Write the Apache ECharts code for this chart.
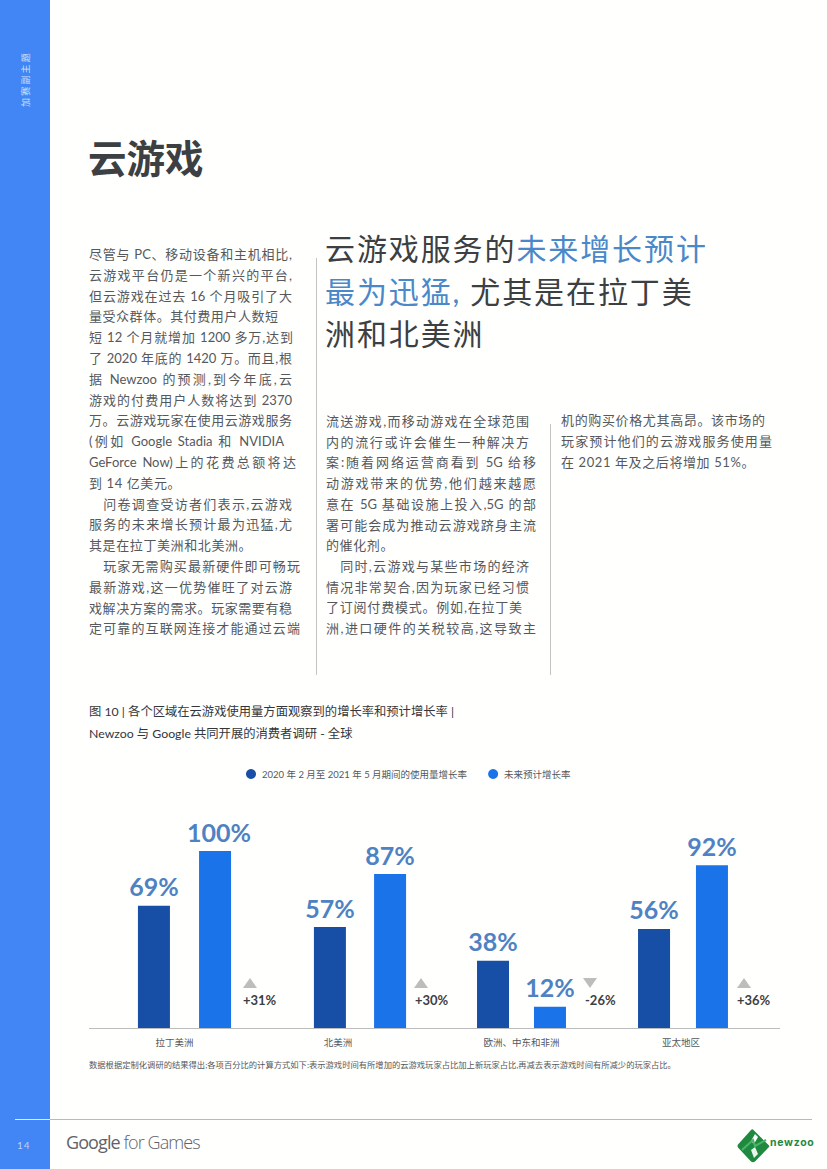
<!DOCTYPE html>
<html lang="zh"><head><meta charset="utf-8">
<script src="https://cdn.jsdelivr.net/npm/echarts@6/dist/echarts.min.js"></script>
<style>
html,body{margin:0;padding:0;background:#fff}
#page{position:relative;width:827px;height:1169px;overflow:hidden;background:#fffffe;font-family:Lato,"Noto Sans CJK SC",sans-serif;color:#55585c}
#chart{position:absolute;left:0;top:0;width:827px;height:1169px;z-index:2}
.abs{position:absolute;white-space:nowrap}
.ln{position:absolute;white-space:nowrap;font-size:13px;line-height:20px;height:20px;letter-spacing:.6px;color:#55585c}
.just{text-align:justify;text-align-last:justify;white-space:normal;letter-spacing:0}
.q{font-size:30px;line-height:40px;letter-spacing:1.9px;color:#3c4043;font-weight:400}
.q b{font-weight:400;color:#4a88c9}
</style></head><body>
<div id="page">
  <div class="abs" style="left:0;top:0;width:50px;height:1169px;background:#4285f4"></div>
  <div class="abs" style="left:25px;top:79px;transform:translate(-50%,-50%) rotate(-90deg);font-size:9px;letter-spacing:2.2px;color:#cfe0fb">加赛副主题</div>
  <div class="abs" style="left:88px;top:134px;font-size:38.5px;line-height:48px;font-weight:700;color:#3c4043">云游戏</div>
  <div class="abs" style="left:316px;top:258px;width:1px;height:417px;background:#c4c4c4"></div>
  <div class="abs" style="left:550px;top:424px;width:1px;height:251px;background:#c4c4c4"></div>
  <div class="abs q" style="left:325px;top:228px">云游戏服务的<b>未来增长预计</b></div>
  <div class="abs q" style="left:325px;top:271px"><b>最为迅猛,</b><span style="margin-left:9px">尤其是在拉丁美</span></div>
  <div class="abs q" style="left:325px;top:313px">洲和北美洲</div>
  <div id="body"></div>
  <div class="abs" style="left:15px;top:1119px;width:35px;height:1px;background:#dfeafd"></div>
  <div class="abs" style="left:50px;top:1119px;width:762px;height:1px;background:#b9b9b9"></div>
  <div class="abs" style="left:17px;top:1139px;font-size:10px;line-height:12px;letter-spacing:1px;color:#bcd3fa">14</div>
  <div class="abs" style="left:66px;top:1129px;font-size:18px;line-height:26px;letter-spacing:-.9px;color:#5f6368;font-family:'Open Sans',sans-serif"><span>Google</span> <span style="font-weight:300">for Games</span></div>
  <svg class="abs" style="left:736px;top:1128px" width="36" height="36" viewBox="0 0 36 36">
    <path d="M17 1.5 L32.5 17 Q34 18 32.5 19.5 L19 33.5 Q17 35 15 33.5 L2 19.5 Q1 18 2 16.5 L15 2 Q16 1 17 1.5Z" fill="#1f8a3f"/>
    <path d="M19 6 L22 9 L18 16 L15 13Z" fill="#fff"/><path d="M15 22 L19 19 L22 26 L18 30Z" fill="#fff" opacity=".9"/>
    <path d="M6 22 L17 12 L19 18 L30 12" stroke="#48b568" stroke-width="2" fill="none"/>
  </svg>
  <div class="abs" style="left:770px;top:1136px;font-size:10.5px;line-height:14px;font-weight:700;letter-spacing:.7px;color:#1f8a3f;font-family:Inter,sans-serif">newzoo</div>
  <div id="chart"></div>
</div>
<script>
// ---- chart data ----
const categories = ['拉丁美洲', '北美洲', '欧洲、中东和非洲', '亚太地区'];
const observedGrowth = [69, 57, 38, 56];
const expectedGrowth = [100, 87, 12, 92];
const deltaLabels = ['+31%', '+30%', '-26%', '+36%'];
const seriesNames = ['2020 年 2 月至 2021 年 5 月期间的使用量增长率', '未来预计增长率'];
const chartTitle = '图 10 | 各个区域在云游戏使用量方面观察到的增长率和预计增长率 |\nNewzoo 与 Google 共同开展的消费者调研 - 全球';
const footnote = '数据根据定制化调研的结果得出;各项百分比的计算方式如下:表示游戏时间有所增加的云游戏玩家占比加上新玩家占比,再减去表示游戏时间有所减少的玩家占比。';

// ---- page copy: [text, right edge of the justified line, or 0 for natural width] ----
const col1 = [
 ['尽管与 PC、移动设备和主机相比,',292],['云游戏平台仍是一个新兴的平台,',292],['但云游戏在过去 16 个月吸引了大',292],
 ['量受众群体。其付费用户人数短',278],['短 12 个月就增加 1200 多万,达到',293],['了 2020 年底的 1420 万。而且,根',292],
 ['据 Newzoo 的预测,到今年底,云',292],['游戏的付费用户人数将达到 2370',292],['万。云游戏玩家在使用云游戏服务',292],
 ['(例如 Google Stadia 和 NVIDIA',284],['GeForce Now)上的花费总额将达',296],['到 14 亿美元。',0],
 ['　问卷调查受访者们表示,云游戏',292],['服务的未来增长预计最为迅猛,尤',292],['其是在拉丁美洲和北美洲。',0],
 ['　玩家无需购买最新硬件即可畅玩',300],['最新游戏,这一优势催旺了对云游',292],['戏解决方案的需求。玩家需要有稳',292],['定可靠的互联网连接才能通过云端',300]];
const col2 = [
 ['流送游戏,而移动游戏在全球范围',529],['内的流行或许会催生一种解决方',529],['案:随着网络运营商看到 5G 给移',536],
 ['动游戏带来的优势,他们越来越愿',536],['意在 5G 基础设施上投入,5G 的部',536],['署可能会成为推动云游戏跻身主流',536],['的催化剂。',0],
 ['　同时,云游戏与某些市场的经济',529],['情况非常契合,因为玩家已经习惯',529],['了订阅付费模式。例如,在拉丁美',522],['洲,进口硬件的关税较高,这导致主',536]];
const col3 = [['机的购买价格尤其高昂。该市场的',765],['玩家预计他们的云游戏服务使用量',772],['在 2021 年及之后将增加 51%。',0]];
function putCol(lines, x, y0, pitch){
  const host = document.getElementById('body');
  lines.forEach((l,i)=>{
    const d = document.createElement('div');
    d.className = 'ln' + (l[1] ? ' just' : '');
    d.textContent = l[0];
    d.style.left = x+'px';
    d.style.top = (y0 + i*pitch - 10)+'px';
    if(l[1]) d.style.width = (l[1]-x)+'px';
    host.appendChild(d);
  });
}
putCol(col1, 89, 254, 20.8);
putCol(col2, 326, 421, 20.7);
putCol(col3, 561, 420, 21);

// ---- layout (px on the page) ----
const baseY = 1028, topY = 851;
const groupCenter = [184.5, 360, 521.5, 683];
const barGap = ['91%', '88%', '78%', '81%'];
const labelShift = [-10, -22, 0, -2];
const deltaX = [250, 421, 590, 744];
const deltaTextX = [243, 415, 585, 737];
const halfW = 70;
const C1 = '#174ea6', C2 = '#1a73e8', VAL = '#4f82c3', TXT = '#55585c';
const FF = 'Lato,"Noto Sans CJK SC",sans-serif';

const chart = echarts.init(document.getElementById('chart'), null, {renderer:'svg', width:827, height:1169});
const grids = [], xAxes = [], yAxes = [], series = [];
categories.forEach((c,i)=>{
  grids.push({left:groupCenter[i]-halfW, width:halfW*2, top:topY, height:baseY-topY});
  const s = labelShift[i];
  xAxes.push({type:'category', gridIndex:i, data:[c], axisLine:{show:false}, axisTick:{show:false},
    axisLabel:{fontSize:9.5, color:TXT, margin:10, fontFamily:FF, interval:0,
      padding: s<0 ? [0,-2*s,0,0] : [0,0,0,2*s]}});
  yAxes.push({type:'value', gridIndex:i, min:0, max:100, show:false});
  [observedGrowth, expectedGrowth].forEach((arr,k)=>{
    series.push({type:'bar', name:seriesNames[k], xAxisIndex:i, yAxisIndex:i, data:[arr[i]],
      barWidth:32, barGap:barGap[i], itemStyle:{color:k?C2:C1}, z:3,
      label:{show:true, position:'top', distance:7, offset:(arr[i]===100?[4,0]:[0,0]), formatter:'{c}%', fontSize:25, fontWeight:700, color:VAL, fontFamily:'Lato,sans-serif'}});
  });
});
const graphic = [
  {type:'line', z:1, shape:{x1:89, y1:baseY+.5, x2:780, y2:baseY+.5}, style:{stroke:'#bdbdbd', lineWidth:1}},
  {type:'text', x:89, y:1061, style:{text:footnote, fontSize:8.3, fill:'#55585c', fontFamily:FF}}
];
deltaLabels.forEach((t,i)=>{
  const up = t[0]==='+', x=deltaX[i], y0=978, y1=988;
  graphic.push({type:'polygon', shape:{points: up ? [[x-7,y1],[x+7,y1],[x,y0]] : [[x-7,y0],[x+7,y0],[x,y1]]}, style:{fill:'#bdbdbd'}});
  graphic.push({type:'text', x:deltaTextX[i], y:993, style:{text:t, fontSize:13, fontWeight:700, fill:'#3c4043', fontFamily:FF}});
});
chart.setOption({
  animation:false,
  backgroundColor:'transparent',
  title:{text:chartTitle, left:84, top:695, textStyle:{fontSize:12.3, lineHeight:22, fontWeight:400, color:'#33363a', fontFamily:FF}},
  legend:{left:241, top:764, itemWidth:10, itemHeight:10, itemGap:21, icon:'circle', selectedMode:false,
    data:seriesNames, textStyle:{fontSize:9.5, color:'#55585c', fontFamily:FF, padding:[0,0,0,1]}},
  grid:grids, xAxis:xAxes, yAxis:yAxes, series:series, graphic:graphic
});
</script>
</body></html>
